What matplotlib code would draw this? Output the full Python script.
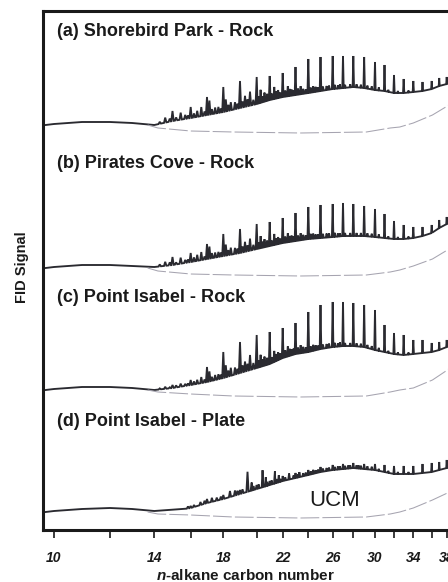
import numpy as np
import matplotlib
matplotlib.use("Agg")
import matplotlib.pyplot as plt
from matplotlib import transforms

plt.rcParams['font.family'] = ['Liberation Sans', 'DejaVu Sans']
plt.rcParams['mathtext.fontset'] = 'custom'
plt.rcParams['mathtext.it'] = 'Liberation Sans:italic:bold'
plt.rcParams['mathtext.rm'] = 'Liberation Sans:bold'

# ---- calibration: n-alkane carbon number vs retention time (min) ----
CARBON_REF = [9, 10, 12, 14, 16, 18, 20, 22, 24, 26, 28, 30, 32, 34, 36, 38, 40]
RET_REF = [2.6, 5.4, 11.0, 15.43, 19.07, 22.33, 25.67, 28.27, 30.83, 33.27,
           35.33, 37.5, 39.4, 41.33, 43.17, 44.67, 46.1]

TICK_C = [10, 12, 14, 16, 18, 20, 22, 24, 26, 28, 30, 32, 34, 36, 38]
TICK_LABELS = ['10', '', '14', '', '18', '', '22', '', '26', '', '30', '', '34', '', '38']

TITLES = ['(a) Shorebird Park - Rock', '(b) Pirates Cove - Rock',
          '(c) Point Isabel - Rock', '(d) Point Isabel - Plate']

# ---- chromatogram envelopes (signal above each trace's start level) ----
ENV_C = [9.7] + list(range(10, 39)) + [38.6]
ENV_A = [0, 1, 3, 3, 2, 0, 4, 7, 10, 13, 17, 21, 25, 28, 30, 32,
         34, 36, 37, 38, 37, 35, 34, 32, 32, 33, 34, 36, 39, 41, 43]
ENV_B = [0, 1, 3, 3, 2, 1, 3, 6, 9, 12, 15, 19, 22, 25, 27, 29,
         30, 31, 32, 32, 32, 31, 30, 29, 29, 30, 32, 35, 40, 44, 46]
ENV_C_ = [0, 1, 3, 3, 2, 0, 2, 5, 8, 12, 17, 22, 26, 32, 36, 38,
          41, 43, 44, 44, 43, 40, 38, 36, 35, 36, 37, 38, 40, 43, 45]
ENV_D = [0, 1, 3, 4, 3, 1, 1, 4, 9, 13, 18, 23, 27, 31, 34, 37,
         40, 42, 43, 44, 43, 42, 40, 38, 38, 38, 39, 40, 42, 44, 45]

# ---- n-alkane peaks C15..C38 (height above envelope) ----
PEAK_C = list(range(15, 39))
PEAK_A = [10, 11, 18, 25, 27, 27, 24, 24, 28, 34, 34, 33, 32, 31, 31, 28, 26, 18, 14, 11, 9, 8, 8, 7]
PEAK_B = [8, 9, 15, 22, 24, 25, 24, 25, 28, 32, 33, 33, 33, 32, 30, 28, 24, 18, 14, 11, 9, 8, 8, 7]
PEAK_C_ = [3, 5, 15, 26, 31, 33, 32, 30, 31, 40, 44, 45, 44, 43, 42, 40, 27, 21, 20, 14, 13, 9, 8, 7]
PEAK_D = [0, 2, 4, 4, 4, 4, 4, 5, 5, 5, 5, 5, 5, 5, 5, 6, 7, 8, 8, 8, 9, 9, 8, 8]

# ---- minor (branched / isoprenoid) peaks ----
MINOR_C = [14.6, 15.45, 15.7, 16.4, 16.65, 17.15, 17.5, 18.15, 18.45, 19.3, 19.6,
           20.3, 20.6, 21.35, 21.65, 22.4, 22.7, 23.4, 24.4, 25.5, 26.5]
MINOR_A = [5, 7, 4, 6, 9, 14, 6, 12, 8, 11, 14, 13, 9, 12, 8, 10, 6, 8, 6, 4, 3]
MINOR_B = [4, 6, 3, 6, 8, 12, 5, 11, 7, 10, 12, 12, 8, 11, 7, 9, 6, 7, 5, 4, 3]
MINOR_CC = [2, 3, 2, 4, 6, 10, 5, 12, 8, 10, 15, 12, 9, 11, 8, 10, 6, 8, 6, 4, 3]
MINOR_DC = [16.6, 17.3, 17.6, 18.4, 18.7, 19.45, 19.7, 20.45, 20.7, 21.4, 21.7,
            22.5, 23.3, 24.4, 25.5, 26.5, 27.5, 28.5]
MINOR_D = [3, 4, 3, 6, 5, 20, 8, 17, 9, 12, 7, 6, 5, 4, 3, 3, 3, 3]

# ---- small unresolved "grass" peaks on the hump ----
NOISE_C = [14.3, 14.85, 15.2, 15.85, 16.2, 16.85, 17.3, 17.7, 17.85, 18.3, 18.7, 18.85,
           19.15, 19.45, 19.8, 20.15, 20.45, 20.8, 21.15, 21.5, 21.8, 22.2, 22.55, 22.85,
           23.2, 23.6, 23.8, 24.2, 24.6, 24.8, 25.2, 25.7, 26.2, 26.7, 27.2, 27.7,
           28.3, 28.7, 29.3, 29.7, 30.4, 31.4, 32.4, 33.5]
NOISE_A = [2, 3, 3, 3, 4, 4, 5, 6, 4, 6, 7, 5, 6, 7, 5, 7, 6, 7, 6, 7, 5, 6,
           7, 5, 6, 5, 4, 5, 5, 4, 4, 4, 4, 4, 3, 3, 3, 3, 3, 3, 3, 2, 2, 2]
NOISE_B = [2, 3, 2, 3, 4, 3, 5, 5, 4, 5, 6, 5, 6, 6, 5, 6, 6, 6, 5, 6, 5, 6,
           6, 5, 5, 5, 4, 5, 4, 4, 4, 4, 4, 3, 3, 3, 3, 3, 3, 3, 3, 2, 2, 2]
NOISE_CC = [1, 1, 2, 2, 3, 3, 4, 5, 4, 6, 7, 5, 7, 7, 6, 7, 7, 7, 6, 7, 6, 7,
            7, 6, 6, 6, 5, 5, 5, 4, 4, 4, 4, 4, 3, 3, 3, 3, 3, 3, 3, 2, 2, 2]
NOISE_D = [0, 0, 0, 2, 2, 3, 3, 3, 3, 4, 4, 4, 4, 5, 4, 4, 4, 4, 4, 4, 3, 3,
           3, 3, 3, 3, 3, 3, 3, 3, 3, 3, 3, 3, 3, 3, 3, 3, 3, 3, 2, 2, 2, 2]

# ---- lower baseline (blank / UCM base) ----
BL_C = [13.7, 14.2, 16, 18.6, 23.4, 29.2, 31.6, 32.6, 34, 36.1, 38.1, 38.6]
BL_A = [0, -3, -6, -7, -8, -7, -3, -2, 2, 10, 19, 22]
BL_B = [0, -3, -6, -7, -8, -7, -4, -2, 2, 9, 18, 21]
BL_CC = [0, -2, -4, -6, -7, -6, -2, 0, 2, 10, 20, 23]
BL_D = [0, -2, -3, -5, -6, -5, -2, 0, 4, 12, 19, 22]

OFFSETS = [405, 262, 140, 18]
TITLE_Y = [499, 367, 232, 109]

panels = [
    (ENV_A, PEAK_A, MINOR_C, MINOR_A, NOISE_A, BL_A),
    (ENV_B, PEAK_B, MINOR_C, MINOR_B, NOISE_B, BL_B),
    (ENV_C_, PEAK_C_, MINOR_C, MINOR_CC, NOISE_CC, BL_CC),
    (ENV_D, PEAK_D, MINOR_DC, MINOR_D, NOISE_D, BL_D),
]


def build_trace(env_v, pk_c, pk_h, mn_c, mn_h, nz_c, nz_h, w=0.065):
    env_c = np.asarray(ENV_C, float)
    env_v = np.asarray(env_v, float)
    centers = list(pk_c) + list(mn_c)
    heights = list(pk_h) + list(mn_h)
    # add grass peaks that do not collide with resolved peaks
    for c, h in zip(nz_c, nz_h):
        if all(abs(c - pc) > 0.1 for pc in centers):
            centers.append(c)
            heights.append(h)
    xs, ys = [], []
    for c, v in zip(env_c, env_v):
        if all(abs(c - pc) > w for pc in centers):
            xs.append(c)
            ys.append(v)
    for c, h in zip(centers, heights):
        if h <= 0:
            continue
        for dx, add in ((-w, 0.0), (0.0, h), (w, 0.0)):
            xs.append(c + dx)
            ys.append(np.interp(c + dx, env_c, env_v) + add)
    order = np.argsort(xs, kind='stable')
    return np.asarray(xs)[order], np.asarray(ys)[order]


W, H = 448, 582
fig = plt.figure(figsize=(W / 100, H / 100), dpi=100)
left_px, right_px, top_px, bot_px = 42.5, 451, 11, 530
ax = fig.add_axes([left_px / W, 1 - bot_px / H, (right_px - left_px) / W, (bot_px - top_px) / H])

fwd = lambda c: np.interp(c, CARBON_REF, RET_REF)
inv = lambda r: np.interp(r, RET_REF, CARBON_REF)
ax.set_xscale('function', functions=(fwd, inv))
ax.set_xlim(9.59, 38.6)
ax.set_ylim(0, bot_px - top_px)

trace_col = '#2a2a30'
base_col = '#a6a4b0'
for off, (env, pk, mc, mh, nh, bl) in zip(OFFSETS, panels):
    x, y = build_trace(env, PEAK_C, pk, mc, mh, NOISE_C, nh)
    ax.plot(x, y + off, color=trace_col, lw=1.35, solid_joinstyle='miter')
    ax.plot(BL_C, np.asarray(bl) + off, color=base_col, lw=0.75, ls=(0, (18, 3)))

tr = transforms.blended_transform_factory(ax.transAxes, ax.transData)
for t, ty in zip(TITLES, TITLE_Y):
    ax.text(0.036, ty, t, transform=tr, fontsize=13, fontweight='bold',
            ha='left', va='center', color='#1a1a1a')

ax.text(26.2, 30, 'UCM', fontsize=16, ha='center', va='center', color='#1a1a1a')

for s in ax.spines.values():
    s.set_linewidth(2.2)
    s.set_color('#1a1a1a')

ax.set_yticks([])
ax.set_xticks(TICK_C)
ax.set_xticklabels(TICK_LABELS, fontsize=10, fontweight='bold', fontstyle='italic')
ax.xaxis.set_minor_locator(matplotlib.ticker.NullLocator())
ax.tick_params(axis='x', direction='out', length=6, width=1.2, pad=9, colors='#1a1a1a')

fig.text(22 / W, 1 - 267 / H, 'FID Signal', rotation=90, fontsize=10.5,
         fontweight='bold', ha='center', va='center', color='#1a1a1a')
fig.text(245 / W, 1 - 575 / H, r'$\it{n}$-alkane carbon number', fontsize=11,
         fontweight='bold', ha='center', va='center', color='#1a1a1a')

fig.savefig('out.png', dpi=100)
